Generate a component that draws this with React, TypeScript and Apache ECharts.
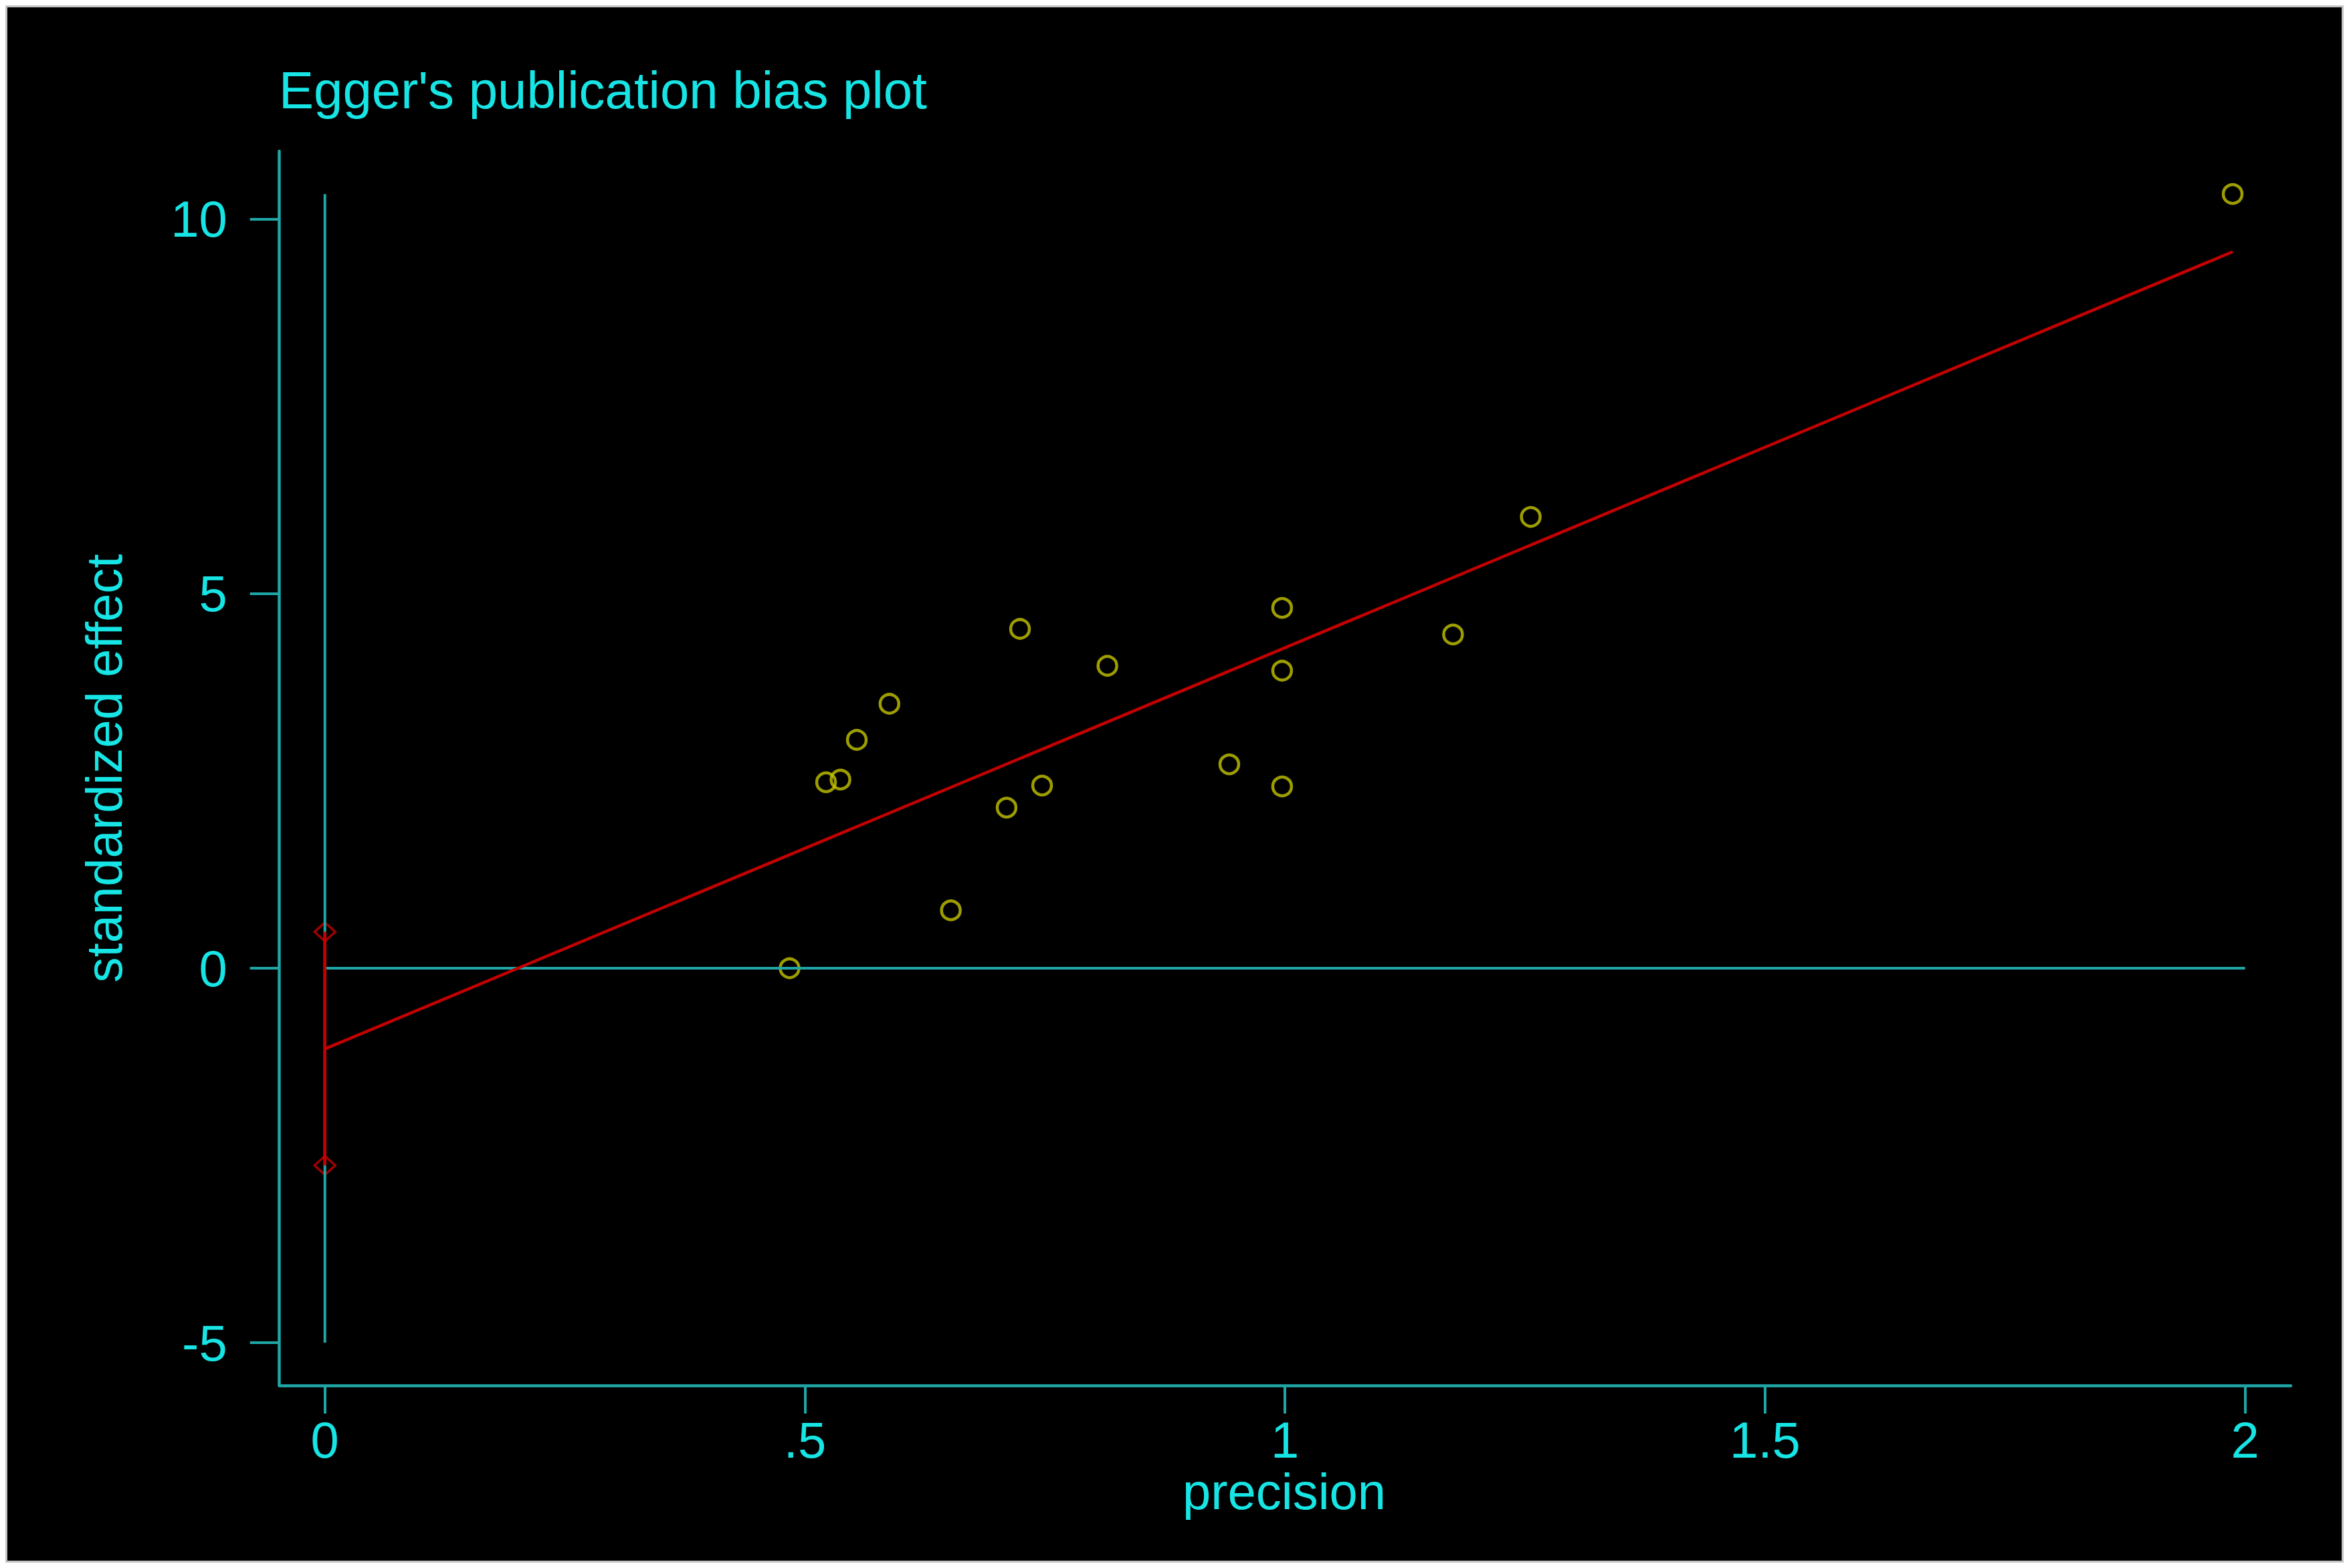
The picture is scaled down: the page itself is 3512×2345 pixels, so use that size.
import React, { useEffect, useRef } from "react";
import * as echarts from "echarts";

// ---- data ----
const precision = [1.987, 1.256, 0.997, 1.175, 0.724, 0.815, 0.997, 0.588, 0.554, 0.522, 0.537, 0.942, 0.747, 0.997, 0.71, 0.652, 0.484];
const standardizedEffect = [10.337, 6.026, 4.811, 4.456, 4.531, 4.038, 3.973, 3.531, 3.049, 2.483, 2.519, 2.722, 2.439, 2.427, 2.144, 0.773, 0.0];
const xTickValues = [0, 0.5, 1, 1.5, 2];
const yTickValues = [-5, 0, 5, 10];
const fitX = [0, 1.987];
const fitY = [-1.077, 9.566];
const interceptCI = [-2.633, 0.486];
const refVerticalY = [-5, 10.337];
const refHorizontalX = [0, 2];

const TEXT = "#17e4e4";
const AXIS = "#1fa6a6";
const RED = "#c40000";
const YELLOW = "#c4c400";
const FONT = "'Liberation Sans', Arial, sans-serif";
const FS = 76;

const fmtX = (v: number) => (v === 0 ? "0" : String(v).replace(/^0\./, "."));

export default function App() {
  const ref = useRef<HTMLDivElement>(null);
  useEffect(() => {
    if (!ref.current) return;
    const chart = echarts.init(ref.current, null, { renderer: "svg" });
    const option = {
      animation: false,
      backgroundColor: "#000",
      title: {
        text: "Egger's publication bias plot",
        left: 406,
        top: 85,
        padding: 0,
        textStyle: { color: TEXT, fontSize: 78, fontWeight: "normal", fontFamily: FONT, lineHeight: 78 },
      },
      grid: { left: 406.7, right: 76, top: 215, bottom: 262, containLabel: false },
      xAxis: {
        type: "value",
        min: -0.0474,
        max: 2.0476,
        axisLine: { show: true, onZero: false, lineStyle: { color: AXIS, width: 4.5 } },
        axisTick: { show: true, length: 42, customValues: xTickValues, lineStyle: { color: AXIS, width: 4 } },
        axisLabel: {
          customValues: xTickValues,
          margin: 43,
          color: TEXT,
          fontSize: FS,
          fontFamily: FONT,
          lineHeight: FS,
          formatter: fmtX,
        },
        splitLine: { show: false },
      },
      yAxis: {
        type: "value",
        min: -5.571,
        max: 10.91,
        axisLine: { show: true, onZero: false, lineStyle: { color: AXIS, width: 4.5 } },
        axisTick: { show: true, length: 44, customValues: yTickValues, lineStyle: { color: AXIS, width: 4 } },
        axisLabel: {
          customValues: yTickValues,
          margin: 78,
          color: TEXT,
          fontSize: FS,
          fontFamily: FONT,
          lineHeight: FS,
          padding: [16, 0, 0, 0],
          formatter: (v: number) => String(v),
        },
        splitLine: { show: false },
      },
      graphic: [
        {
          type: "text",
          x: 1909,
          y: 2219,
          style: { text: "precision", fill: TEXT, fontSize: FS, fontFamily: FONT, align: "center", verticalAlign: "middle" },
        },
        {
          type: "text",
          x: 144,
          y: 1138,
          rotation: Math.PI / 2,
          style: { text: "standardized effect", fill: TEXT, fontSize: FS, fontFamily: FONT, align: "center", verticalAlign: "middle" },
        },
      ],
      series: [
        {
          type: "line",
          data: refVerticalY.map((y) => [0, y]),
          symbol: "none",
          lineStyle: { color: AXIS, width: 4 },
          silent: true,
        },
        {
          type: "line",
          data: refHorizontalX.map((x) => [x, 0]),
          symbol: "none",
          lineStyle: { color: AXIS, width: 4 },
          silent: true,
        },
        {
          type: "line",
          data: fitX.map((x, i) => [x, fitY[i]]),
          symbol: "none",
          lineStyle: { color: RED, width: 4.5 },
          silent: true,
        },
        {
          type: "line",
          data: interceptCI.map((y) => [0, y]),
          symbol: "none",
          lineStyle: { color: RED, width: 4.5 },
          silent: true,
        },
        {
          type: "scatter",
          data: interceptCI.map((y) => [0, y]),
          symbol: "diamond",
          symbolSize: [31, 28],
          itemStyle: { color: "rgba(0,0,0,0)", borderColor: RED, borderWidth: 3.5 },
          silent: true,
        },
        {
          type: "scatter",
          data: precision.map((x, i) => [x, standardizedEffect[i]]),
          symbol: "circle",
          symbolSize: 28,
          itemStyle: { color: "rgba(0,0,0,0)", borderColor: YELLOW, borderWidth: 4.5 },
          silent: true,
        },
      ],
    };
    chart.setOption(option as any);
    return () => chart.dispose();
  }, []);
  return (
    <div
      style={{
        width: 3496,
        height: 2329,
        boxSizing: "border-box",
        border: "3px solid #c4c4c4",
        background: "#000",
      }}
    >
      <div ref={ref} style={{ width: 3490, height: 2323 }} />
    </div>
  );
}
